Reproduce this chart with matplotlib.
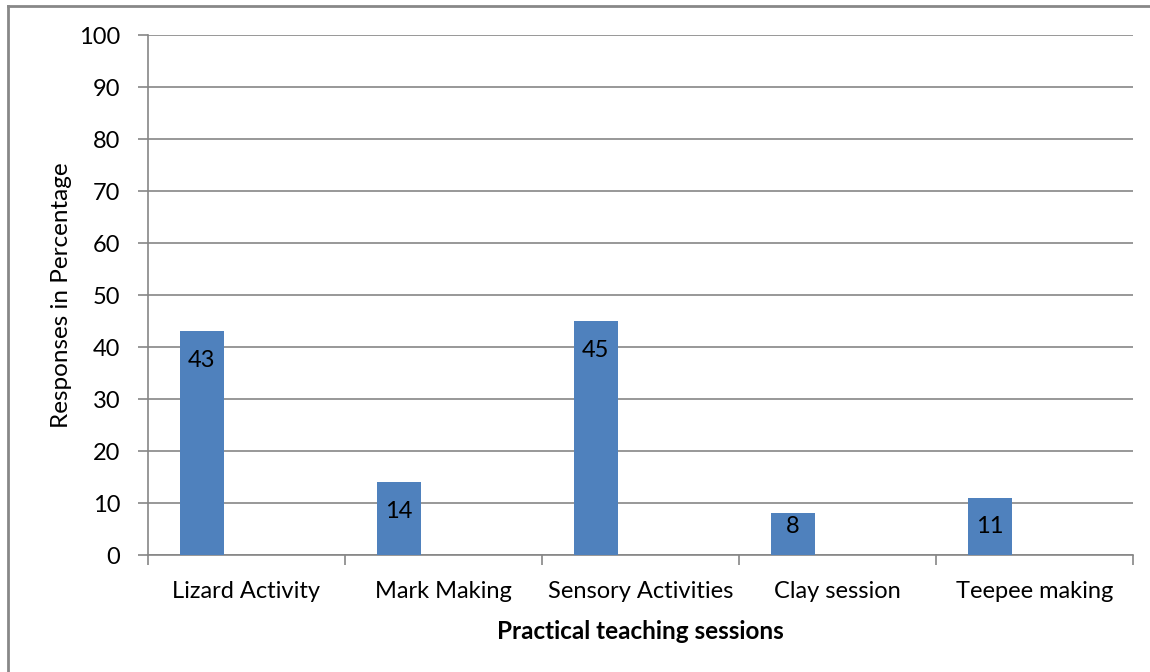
import matplotlib
matplotlib.use("Agg")
import matplotlib.pyplot as plt
from matplotlib.lines import Line2D

sessions = ["Lizard Activity", "Mark Making", "Sensory Activities", "Clay session", "Teepee making"]
responses = [43, 14, 45, 8, 11]
y_ticks = [0, 10, 20, 30, 40, 50, 60, 70, 80, 90, 100]

plt.rcParams["font.family"] = ["Lato", "DejaVu Sans"]

W, H = 1150, 672
fig = plt.figure(figsize=(W / 100, H / 100), dpi=100)
ax = fig.add_axes([148 / W, 1 - 555 / H, (1133 - 148) / W, (555 - 35) / H])

grid_col = "#868686"
bar_col = "#4F81BD"
fs = 17

x = list(range(len(sessions)))
bar_x = [i - 0.228 for i in x]
ax.bar(bar_x, responses, width=0.224, color=bar_col, zorder=3)

for bx, v in zip(bar_x, responses):
    ax.text(bx, max(v - 5.6, 5.5), str(v), ha="center", va="center",
            fontsize=fs, color="black", zorder=4)

ax.set_xlim(-0.5, len(sessions) - 0.5)
ax.set_ylim(0, 100)
ax.set_yticks(y_ticks)
ax.set_yticklabels([str(t) for t in y_ticks], fontsize=fs)
ax.yaxis.grid(True, color=grid_col, linewidth=1.2, zorder=0)
ax.set_axisbelow(True)

# category labels centred, ticks on category boundaries
ax.set_xticks(x)
ax.set_xticklabels(sessions, fontsize=fs)
ax.tick_params(axis="x", length=0, pad=19)
ax.set_xticks([i - 0.5 for i in range(len(sessions) + 1)], minor=True)
ax.tick_params(axis="x", which="minor", length=7, width=1.2, color=grid_col, direction="out")
ax.tick_params(axis="y", length=7, width=1.2, color=grid_col, direction="out", pad=13)

for side in ["top", "right"]:
    ax.spines[side].set_visible(False)
for side in ["left", "bottom"]:
    ax.spines[side].set_color(grid_col)
    ax.spines[side].set_linewidth(1.2)

ax.set_xlabel("Practical teaching sessions", fontsize=17.5, fontweight="bold", labelpad=13)
ax.set_ylabel("Responses in Percentage", fontsize=17.5, labelpad=5)

# chart area frame
fig.add_artist(Line2D([7.5 / W, 1], [1 - 5.5 / H, 1 - 5.5 / H], color="#888888", linewidth=2,
                      transform=fig.transFigure))
fig.add_artist(Line2D([7.5 / W, 7.5 / W], [0, 1 - 5.5 / H], color="#888888", linewidth=2,
                      transform=fig.transFigure))

fig.savefig("out.png", dpi=100, facecolor="white")
